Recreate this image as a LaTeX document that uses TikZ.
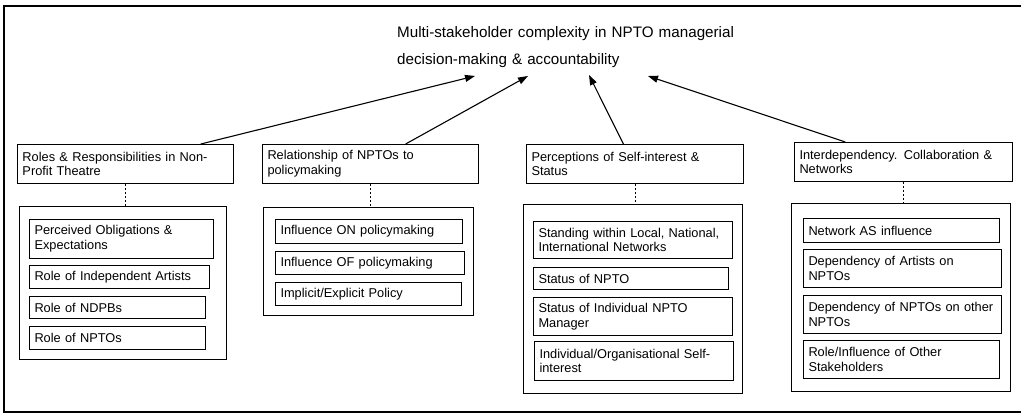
\documentclass[tikz,border=0pt]{standalone}
\usepackage{fontspec}
\setmainfont{Liberation Sans}
\usepackage{tikz}
\usetikzlibrary{arrows.meta,positioning,calc}

\newcommand{\bxfont}{\fontsize{12.8}{14.8}\selectfont}
\newcommand{\ttlfont}{\fontsize{15.2}{27.5}\selectfont}

\begin{document}
\begin{tikzpicture}[
   x=1pt,y=-1pt,
   every node/.style={font=\bxfont},
   cat/.style={draw,line width=1pt,anchor=north west,align=left,
               inner xsep=5pt,inner ysep=2pt,minimum height=39pt},
   grp/.style={draw,line width=1pt,anchor=north west,inner sep=0pt},
   item/.style={draw,line width=1pt,anchor=north west,align=left,
                inner xsep=5pt,inner ysep=2pt},
   arrow/.style={line width=1.1pt,-{Triangle[length=10pt,width=7pt]}},
   link/.style={line width=0.9pt,dash pattern=on 2.2pt off 1.8pt}
]
\useasboundingbox (0,0) rectangle (1021,414);

% outer frame (runs off the right edge)
\begin{scope}
  \clip (0,0) rectangle (1021,414);
  \draw[line width=2.2pt] (4,6) rectangle (1040,412);
\end{scope}

% =========== Title ============
\node[anchor=north west,align=left,inner sep=0pt,text width=360pt,font=\ttlfont]
   (title) at (397,26)
   {Multi-stakeholder complexity in NPTO managerial\\decision-making \& accountability};

\coordinate (tA) at (475,76);
\coordinate (tB) at (528,76);
\coordinate (tC) at (589,75);
\coordinate (tD) at (648,76);

% =========== Themes ============
\node[cat,text width=206pt] (catA) at (17,144)
   {Roles \& Responsibilities in Non-\\Profit Theatre};
\node[cat,text width=206pt] (catB) at (262,144)
   {Relationship of NPTOs to\\policymaking};
\node[cat,text width=207pt] (catC) at (526,144)
   {Perceptions of Self-interest \&\\Status};
\node[cat,text width=208pt] (catD) at (794,142)
   {Interdependency. Collaboration \&\\Networks};

\foreach \c/\f/\t in {catA/0.847/tA,catB/0.662/tB,catC/0.447/tC,catD/0.234/tD} {
  \draw[arrow] ($(\c.north west)!\f!(\c.north east)$) -- (\t);
}

% =========== Sub-theme groups ============
\node[grp,minimum width=207pt,minimum height=153pt] (grpA) at (19,206) {};
\node[grp,minimum width=210pt,minimum height=108pt] (grpB) at (263,207) {};
\node[grp,minimum width=219pt,minimum height=189pt] (grpC) at (523,204) {};
\node[grp,minimum width=219pt,minimum height=188pt] (grpD) at (791,203) {};

\foreach \g in {A,B,C,D} {
  \draw[link] (cat\g.south) -- (cat\g.south |- grp\g.north);
}

% Roles
\node[item,text width=174pt,minimum height=39pt] (rA) at (29,219)
   {Perceived Obligations \&\\Expectations};
\node[item,text width=170pt,minimum height=23pt] (rB) at (29,265)
   {Role of Independent Artists};
\node[item,text width=166pt,minimum height=22pt] (rC) at (29,296)
   {Role of NDPBs};
\node[item,text width=166pt,minimum height=23pt] (rD) at (29,326)
   {Role of NPTOs};

% Policymaking
\node[item,text width=177pt,minimum height=24pt] (pA) at (275,219)
   {Influence ON policymaking};
\node[item,text width=179pt,minimum height=23pt] (pB) at (275,251)
   {Influence OF policymaking};
\node[item,text width=176pt,minimum height=23pt] (pC) at (275,282)
   {Implicit/Explicit Policy};

% Self-interest
\node[item,text width=189pt,minimum height=37pt] (sA) at (533,221)
   {Standing within Local, National,\\International Networks};
\node[item,text width=185pt,minimum height=22pt] (sB) at (533,267)
   {Status of NPTO};
\node[item,text width=189pt,minimum height=38pt] (sC) at (533,297)
   {Status of Individual NPTO\\Manager};
\node[item,text width=189pt,minimum height=39pt] (sD) at (534,341)
   {Individual/Organisational Self-\\interest};

% Networks
\node[item,text width=186pt,minimum height=24pt] (nA) at (803,218)
   {Network AS influence};
\node[item,text width=188pt,minimum height=38pt] (nB) at (803,249)
   {Dependency of Artists on\\NPTOs};
\node[item,text width=188pt,minimum height=38pt] (nC) at (803,295)
   {Dependency of NPTOs on other\\NPTOs};
\node[item,text width=186pt,minimum height=38pt] (nD) at (803,340)
   {Role/Influence of Other\\Stakeholders};

\end{tikzpicture}
\end{document}
